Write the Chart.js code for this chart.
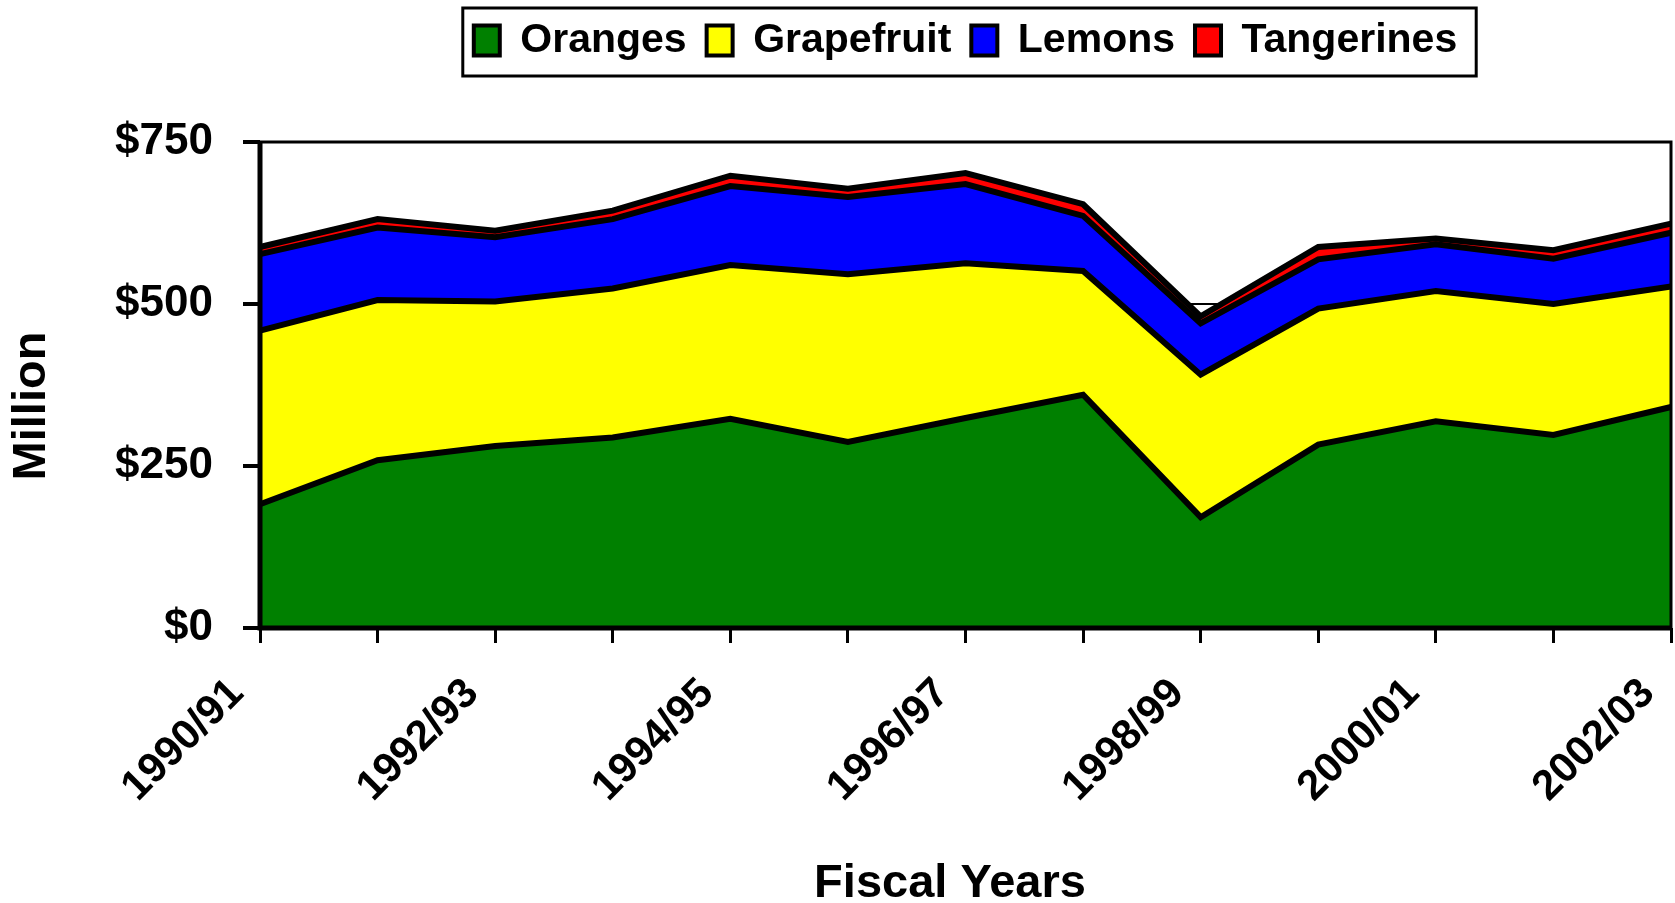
<!DOCTYPE html>
<html>
<head>
<meta charset="utf-8">
<title>Citrus value by fiscal year</title>
<script src="https://cdn.jsdelivr.net/npm/chart.js@4.4.0/dist/chart.umd.min.js"></script>
<style>
  html, body { margin: 0; padding: 0; background: #fff; }
  #wrap { width: 1675px; height: 903px; position: relative; }
</style>
</head>
<body>
<div id="wrap"><canvas id="citrusChart"></canvas></div>
<script>
// fiscal years on the x axis
const years = ["1990/91", "1991/92", "1992/93", "1993/94", "1994/95", "1995/96", "1996/97",
               "1997/98", "1998/99", "1999/00", "2000/01", "2001/02", "2002/03"];

// value of each crop, million dollars (stacked)
const oranges    = [191, 259, 281, 294, 323, 287, 324, 360, 171, 283, 319, 298, 341];
const grapefruit = [268, 247, 223, 230, 237, 259, 239, 191, 220, 210, 201, 202, 186];
const lemons     = [118, 112,  99, 107, 122, 119, 122,  85,  79,  76,  72,  70,  83];
const tangerines = [ 11,  13,  10,  13,  16,  13,  17,  18,  11,  19,   9,  13,  14];

const yTicks = [0, 250, 500, 750];

const FONT = "'Liberation Sans', Arial, sans-serif";

// frame round the plot, box round the legend, axis titles
const chartFrame = {
  id: 'chartFrame',
  afterLayout(chart) {
    const lg = chart.legend;
    const a = chart.chartArea;
    lg.left = a.left;
    lg.right = a.right;
    lg.width = a.right - a.left;
    lg.top = 0;
    lg.bottom = lg.height;
  },
  afterDatasetsDraw(chart) {
    const { ctx, chartArea: a } = chart;
    ctx.save();
    ctx.strokeStyle = '#000';
    ctx.lineWidth = 3;
    ctx.beginPath();
    ctx.moveTo(a.left, a.top);
    ctx.lineTo(a.right, a.top);
    ctx.lineTo(a.right, a.bottom);
    ctx.stroke();
    ctx.lineWidth = 5;
    ctx.beginPath();
    ctx.moveTo(a.left, a.top - 1);
    ctx.lineTo(a.left, a.bottom);
    ctx.lineTo(a.right + 1, a.bottom);
    ctx.stroke();
    ctx.restore();
  },
  afterDraw(chart) {
    const { ctx, chartArea: a } = chart;
    const lg = chart.legend;
    const pad = lg.options.labels.padding;
    const rowW = lg.lineWidths[0];
    const x0 = (lg.left + pad + lg.right - rowW) / 2;
    ctx.save();
    ctx.strokeStyle = '#000';
    ctx.lineWidth = 3;
    ctx.strokeRect(x0 - 11, 8, rowW - pad + 30, 68);

    // axis titles
    ctx.fillStyle = '#000';
    ctx.font = 'bold 47px ' + FONT;
    ctx.textAlign = 'center';
    ctx.textBaseline = 'middle';
    ctx.fillText('Fiscal Years', a.left + 690, 884);
    ctx.translate(32, a.top + 264);
    ctx.rotate(-Math.PI / 2);
    ctx.fillText('Million', 0, 0);
    ctx.restore();
  }
};

function area(label, data, color, fill) {
  return {
    label: label,
    data: data,
    backgroundColor: color,
    borderColor: '#000',
    borderWidth: 6,
    borderJoinStyle: 'miter',
    pointRadius: 0,
    pointHoverRadius: 0,
    tension: 0,
    fill: fill
  };
}

const ctx = document.getElementById('citrusChart').getContext('2d');
new Chart(ctx, {
  type: 'line',
  data: {
    labels: years,
    datasets: [
      area('Oranges', oranges, '#008000', 'origin'),
      area('Grapefruit', grapefruit, '#ffff00', '-1'),
      area('Lemons', lemons, '#0000ff', '-1'),
      area('Tangerines', tangerines, '#ff0000', '-1')
    ]
  },
  options: {
    responsive: true,
    maintainAspectRatio: false,
    animation: false,
    layout: { padding: { top: 71, right: 4, bottom: 0, left: 0 } },
    plugins: {
      tooltip: { enabled: false },
      legend: {
        position: 'top',
        labels: {
          color: '#000',
          font: { family: FONT, size: 41, weight: 'bold' },
          boxWidth: 26,
          boxHeight: 30,
          padding: 20,
          generateLabels(chart) {
            return chart.data.datasets.map((ds, i) => ({
              text: ds.label,
              fillStyle: ds.backgroundColor,
              strokeStyle: '#000',
              lineWidth: 4,
              hidden: false,
              datasetIndex: i
            }));
          }
        }
      }
    },
    scales: {
      x: {
        grid: { drawOnChartArea: false, drawTicks: true, tickLength: 15, tickWidth: 3, color: '#000', tickColor: '#000' },
        border: { display: false },
        ticks: {
          autoSkip: false,
          minRotation: 45,
          maxRotation: 45,
          padding: 26,
          labelOffset: -23,
          color: '#000',
          font: { family: FONT, size: 42, weight: 'bold' },
          callback(v, i) { return i % 2 === 0 ? this.getLabelForValue(v) : ''; }
        },
        title: { display: false },
        afterFit(s) { s.height = 275; s.paddingLeft = 0; s.paddingRight = 0; }
      },
      y: {
        stacked: true,
        min: 0,
        max: 750,
        afterBuildTicks(s) { s.ticks = yTicks.map(v => ({ value: v })); },
        grid: { color: '#000', lineWidth: 2, drawTicks: true, tickLength: 17, tickWidth: 4, tickColor: '#000' },
        border: { display: false },
        ticks: {
          padding: 30,
          color: '#000',
          font: { family: FONT, size: 44, weight: 'bold' },
          callback: v => '$' + v
        },
        title: { display: false },
        afterFit(s) { s.width = 260; }
      }
    }
  },
  plugins: [chartFrame]
});
</script>
</body>
</html>
